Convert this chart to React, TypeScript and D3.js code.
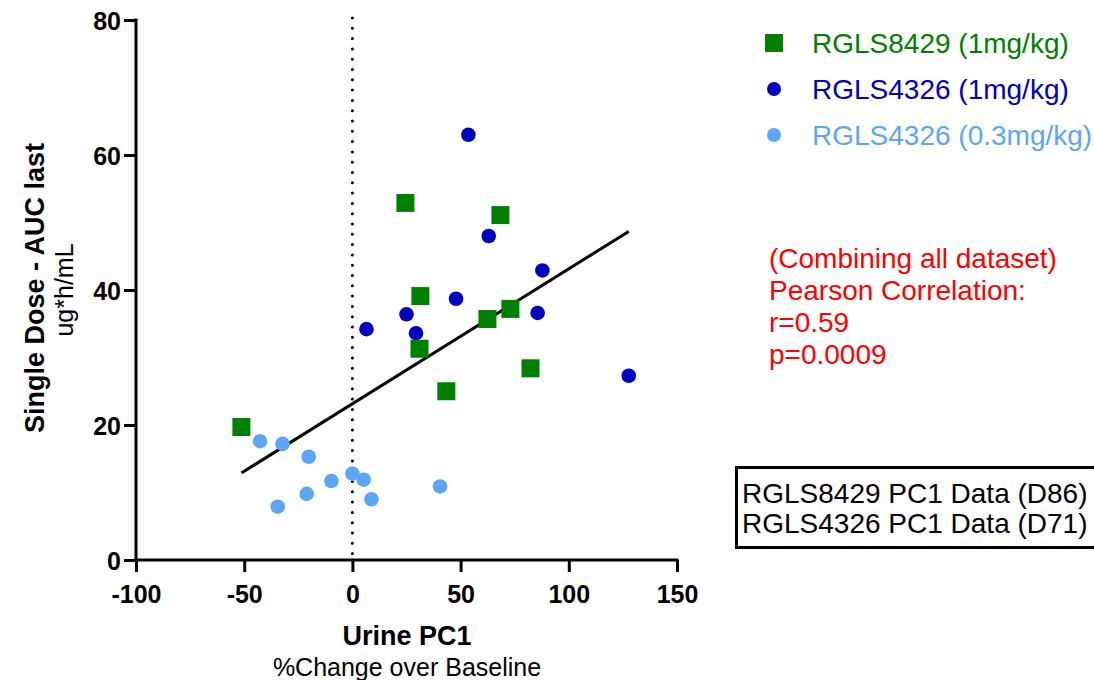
import React, { useEffect, useRef } from 'react';
import * as d3 from 'd3';

// RGLS8429 (1mg/kg)
const greenX = [-51.3, 24.5, 68.4, 31.4, 31.0, 62.4, 73.0, 43.4, 82.3];
const greenY = [19.7, 52.9, 51.1, 39.1, 31.3, 35.7, 37.2, 25.0, 28.4];
// RGLS4326 (1mg/kg)
const darkX = [53.6, 63.0, 87.8, 47.9, 25.0, 29.4, 85.6, 127.7, 6.5];
const darkY = [63.0, 48.0, 42.9, 38.7, 36.4, 33.6, 36.6, 27.3, 34.2];
// RGLS4326 (0.3mg/kg)
const lightX = [-42.7, -32.3, -20.2, 0.0, 5.2, -9.7, -21.1, -34.5, 8.8, 40.5];
const lightY = [17.6, 17.2, 15.3, 12.8, 11.9, 11.7, 9.8, 7.9, 9.0, 10.9];

const xTicks = [-100, -50, 0, 50, 100, 150];
const yTicks = [0, 20, 40, 60, 80];

const legendLabels = ['RGLS8429 (1mg/kg)', 'RGLS4326 (1mg/kg)', 'RGLS4326 (0.3mg/kg)'];
const statLines = ['(Combining all dataset)', 'Pearson Correlation:', 'r=0.59', 'p=0.0009'];
const boxLines = ['RGLS8429 PC1 Data (D86)', 'RGLS4326 PC1 Data (D71)'];

const GREEN = '#008000';
const DARK = '#0000c0';
const LIGHT = '#5ba6f9';
const FONT = '"Liberation Sans", Arial, sans-serif';

document.body.style.margin = '0';

const App = () => {
  const svgRef = useRef<SVGSVGElement | null>(null);

  useEffect(() => {
    const svg = d3.select(svgRef.current);
    svg.selectAll('*').remove();

    const x = d3.scaleLinear().domain([-100, 150]).range([136, 677]);
    const y = d3.scaleLinear().domain([0, 80]).range([560, 20]);

    const toPts = (xs: number[], ys: number[]) => xs.map((v, i) => ({ x: v, y: ys[i] }));
    const green = toPts(greenX, greenY);
    const dark = toPts(darkX, darkY);
    const light = toPts(lightX, lightY);
    const all = [...green, ...dark, ...light];

    // dotted zero line
    svg.append('line')
      .attr('x1', x(0)).attr('x2', x(0))
      .attr('y1', y(80) - 2).attr('y2', y(0))
      .attr('stroke', '#000').attr('stroke-width', 3)
      .attr('stroke-linecap', 'round')
      .attr('stroke-dasharray', '0 10.3');

    // axes
    const xAxis = svg.append('g')
      .attr('transform', `translate(0,${y(0)})`)
      .call(d3.axisBottom(x).tickValues(xTicks).tickFormat(d => String(d)).tickSize(12).tickSizeOuter(0).tickPadding(13));
    const yAxis = svg.append('g')
      .attr('transform', `translate(${x(-100)},0)`)
      .call(d3.axisLeft(y).tickValues(yTicks).tickFormat(d => String(d)).tickSize(12).tickSizeOuter(0).tickPadding(3));
    [xAxis, yAxis].forEach(g => {
      g.select('.domain').attr('stroke', '#000').attr('stroke-width', 3);
      g.selectAll('.tick line').attr('stroke', '#000').attr('stroke-width', 3);
      g.selectAll('.tick text')
        .attr('fill', '#000')
        .style('font-family', FONT)
        .style('font-size', '25px')
        .style('font-weight', 'bold');
    });
    xAxis.select('.domain').attr('d', `M${x(-100) - 1.5},0H${x(150) + 1.5}`);
    yAxis.select('.domain').attr('d', `M0,${y(80) - 1.5}V${y(0) + 1.5}`);
    yAxis.selectAll('.tick text').attr('dy', '0.36em');

    // regression line
    const mx = d3.mean(all, d => d.x) as number;
    const my = d3.mean(all, d => d.y) as number;
    const sxy = d3.sum(all, d => (d.x - mx) * (d.y - my));
    const sxx = d3.sum(all, d => (d.x - mx) ** 2);
    const slope = sxy / sxx;
    const icpt = my - slope * mx;
    const [x0, x1] = d3.extent(all, d => d.x) as [number, number];
    svg.append('line')
      .attr('x1', x(x0)).attr('y1', y(icpt + slope * x0))
      .attr('x2', x(x1)).attr('y2', y(icpt + slope * x1))
      .attr('stroke', '#000').attr('stroke-width', 3);

    // points
    svg.append('g').selectAll('circle').data(light).join('circle')
      .attr('cx', d => x(d.x)).attr('cy', d => y(d.y)).attr('r', 7.3).attr('fill', LIGHT);
    svg.append('g').selectAll('circle').data(dark).join('circle')
      .attr('cx', d => x(d.x)).attr('cy', d => y(d.y)).attr('r', 7.3).attr('fill', DARK);
    svg.append('g').selectAll('rect').data(green).join('rect')
      .attr('x', d => x(d.x) - 9).attr('y', d => y(d.y) - 9)
      .attr('width', 18).attr('height', 18).attr('fill', GREEN);

    // axis titles
    svg.append('text')
      .attr('transform', 'translate(44,288) rotate(-90)')
      .attr('text-anchor', 'middle')
      .style('font-family', FONT).style('font-size', '27px').style('font-weight', 'bold')
      .text('Single Dose - AUC last');
    svg.append('text')
      .attr('transform', 'translate(73,290) rotate(-90)')
      .attr('text-anchor', 'middle')
      .style('font-family', FONT).style('font-size', '25px')
      .text('ug*h/mL');
    svg.append('text')
      .attr('x', 407).attr('y', 645)
      .attr('text-anchor', 'middle')
      .style('font-family', FONT).style('font-size', '27px').style('font-weight', 'bold')
      .text('Urine PC1');
    svg.append('text')
      .attr('x', 407).attr('y', 676)
      .attr('text-anchor', 'middle')
      .style('font-family', FONT).style('font-size', '25px')
      .text('%Change over Baseline');

    // legend
    const colors = [GREEN, DARK, LIGHT];
    const leg = svg.append('g');
    legendLabels.forEach((lab, i) => {
      const cy = 43 + i * 46;
      if (i === 0) {
        leg.append('rect').attr('x', 765).attr('y', cy - 9).attr('width', 18).attr('height', 18).attr('fill', colors[i]);
      } else {
        leg.append('circle').attr('cx', 774).attr('cy', cy).attr('r', 7).attr('fill', colors[i]);
      }
      leg.append('text')
        .attr('x', 812).attr('y', cy).attr('dy', '0.36em')
        .attr('fill', colors[i])
        .style('font-family', FONT).style('font-size', '28px')
        .text(lab);
    });

    // stats
    statLines.forEach((t, i) => {
      svg.append('text')
        .attr('x', 769).attr('y', 258 + i * 32).attr('dy', '0.36em')
        .attr('fill', '#ff0000')
        .style('font-family', FONT).style('font-size', '28px')
        .text(t);
    });

    // data source box
    svg.append('rect')
      .attr('x', 736.5).attr('y', 467.5).attr('width', 370).attr('height', 80)
      .attr('fill', 'none').attr('stroke', '#000').attr('stroke-width', 3);
    boxLines.forEach((t, i) => {
      svg.append('text')
        .attr('x', 742).attr('y', 493 + i * 30).attr('dy', '0.36em')
        .attr('fill', '#000')
        .style('font-family', FONT).style('font-size', '28px')
        .text(t);
    });
  }, []);

  return <svg ref={svgRef} width={1094} height={680} style={{ display: 'block', background: '#fff' }} />;
};

export default App;
